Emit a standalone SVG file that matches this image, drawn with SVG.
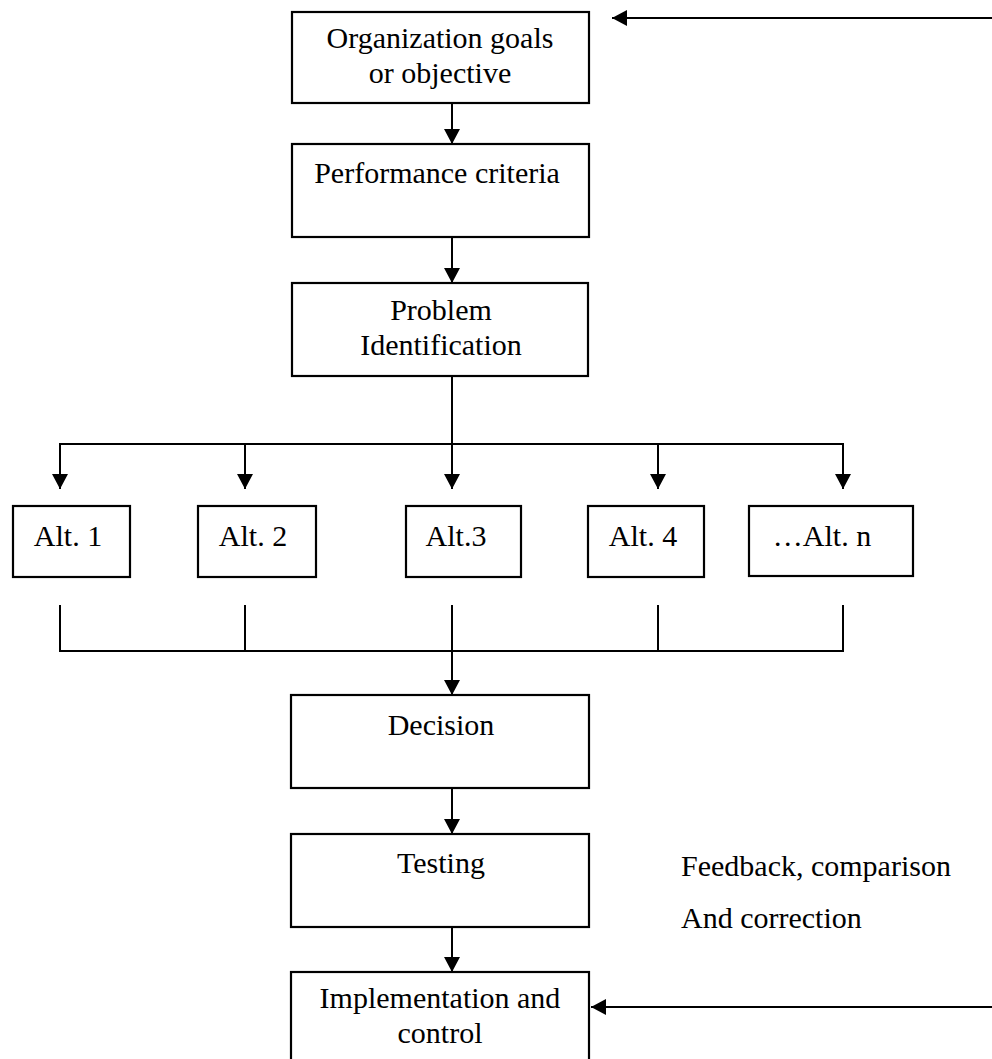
<svg xmlns="http://www.w3.org/2000/svg" width="992" height="1059" viewBox="0 0 992 1059">
<style>
.box{fill:#fff;stroke:#000;stroke-width:2.2}
.ln{fill:none;stroke:#000;stroke-width:2}
.t{font-family:"Liberation Serif","Times New Roman",serif;font-size:30px;fill:#000}
.m{text-anchor:middle}
</style>
<defs>
<marker id="ah" markerUnits="userSpaceOnUse" markerWidth="16" markerHeight="16" refX="15" refY="8" orient="auto">
<path d="M0,0 L15,8 L0,16 z" fill="#000"/>
</marker>
</defs>
<rect width="992" height="1059" fill="#fff"/>
<g id="connectors">
<line class="ln" x1="992" y1="18" x2="612" y2="18" marker-end="url(#ah)"/>
<line class="ln" x1="452" y1="103" x2="452" y2="144" marker-end="url(#ah)"/>
<line class="ln" x1="452" y1="237" x2="452" y2="283" marker-end="url(#ah)"/>
<line class="ln" x1="452" y1="376" x2="452" y2="489" marker-end="url(#ah)"/>
<polyline class="ln" points="60,489 60,444 843,444 843,489" marker-end="url(#ah)"/>
<line class="ln" x1="60" y1="444" x2="60" y2="489" marker-end="url(#ah)"/>
<line class="ln" x1="245" y1="444" x2="245" y2="489" marker-end="url(#ah)"/>
<line class="ln" x1="658" y1="444" x2="658" y2="489" marker-end="url(#ah)"/>
<polyline class="ln" points="60,605 60,651 843,651 843,605"/>
<line class="ln" x1="245" y1="605" x2="245" y2="651"/>
<line class="ln" x1="658" y1="605" x2="658" y2="651"/>
<line class="ln" x1="452" y1="605" x2="452" y2="695" marker-end="url(#ah)"/>
<line class="ln" x1="452" y1="788" x2="452" y2="834" marker-end="url(#ah)"/>
<line class="ln" x1="452" y1="927" x2="452" y2="972" marker-end="url(#ah)"/>
<line class="ln" x1="992" y1="1007" x2="591" y2="1007" marker-end="url(#ah)"/>
</g>
<g id="n-goals">
<rect class="box" x="292" y="12" width="297" height="91"/>
<text class="t m" x="440" y="48">Organization goals</text>
<text class="t m" x="440" y="83">or objective</text>
</g>
<g id="n-criteria">
<rect class="box" x="292" y="144" width="297" height="93"/>
<text class="t m" x="437" y="183">Performance criteria</text>
</g>
<g id="n-problem">
<rect class="box" x="292" y="283" width="296" height="93"/>
<text class="t m" x="441" y="320">Problem</text>
<text class="t m" x="441" y="355">Identification</text>
</g>
<g id="n-alt1">
<rect class="box" x="13" y="506" width="117" height="71"/>
<text class="t m" x="68" y="546">Alt. 1</text>
</g>
<g id="n-alt2">
<rect class="box" x="198" y="506" width="118" height="71"/>
<text class="t m" x="253" y="546">Alt. 2</text>
</g>
<g id="n-alt3">
<rect class="box" x="406" y="506" width="115" height="71"/>
<text class="t m" x="456" y="546">Alt.3</text>
</g>
<g id="n-alt4">
<rect class="box" x="588" y="506" width="116" height="71"/>
<text class="t m" x="643" y="546">Alt. 4</text>
</g>
<g id="n-altn">
<rect class="box" x="749" y="506" width="164" height="70"/>
<text class="t m" x="822" y="546">…Alt. n</text>
</g>
<g id="n-decision">
<rect class="box" x="291" y="695" width="298" height="93"/>
<text class="t m" x="441" y="735">Decision</text>
</g>
<g id="n-testing">
<rect class="box" x="291" y="834" width="298" height="93"/>
<text class="t m" x="441" y="873">Testing</text>
</g>
<g id="n-impl">
<rect class="box" x="291" y="972" width="298" height="100"/>
<text class="t m" x="440" y="1008">Implementation and</text>
<text class="t m" x="440" y="1043">control</text>
</g>
<g id="feedback-label">
<text class="t" x="681" y="876">Feedback, comparison</text>
<text class="t" x="681" y="928">And correction</text>
</g>
</svg>
